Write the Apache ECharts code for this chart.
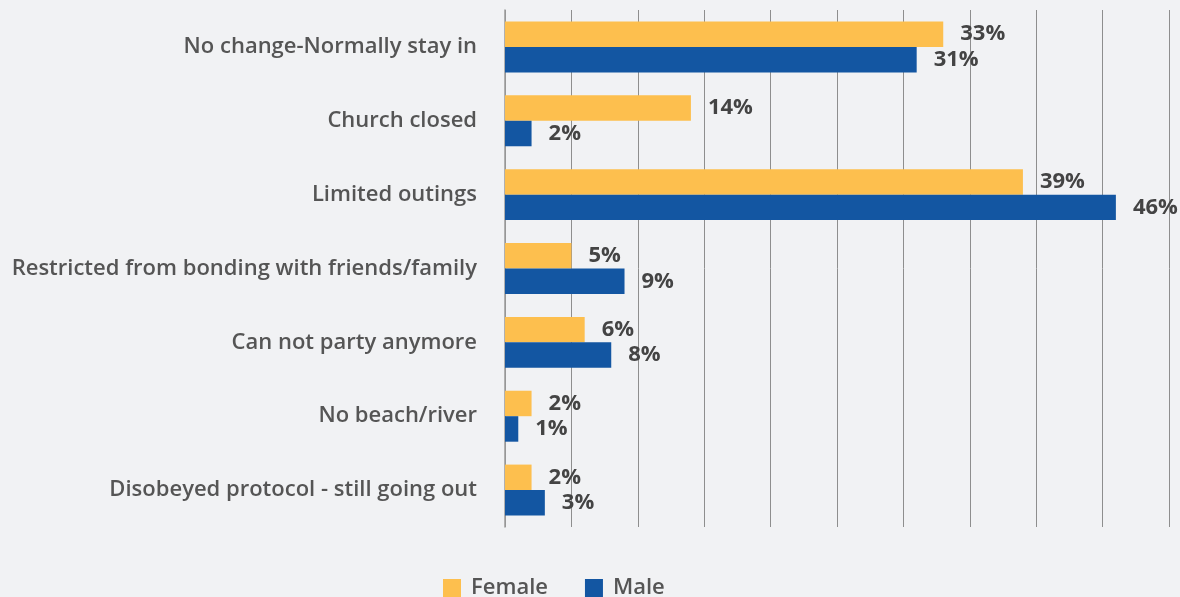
<!DOCTYPE html>
<html>
<head>
<meta charset="utf-8">
<script src="https://cdn.jsdelivr.net/npm/echarts@6/dist/echarts.min.js"></script>
<style>
  html, body { margin: 0; padding: 0; background: #f1f2f4; }
  #chart { width: 1180px; height: 597px; }
</style>
</head>
<body>
<div id="chart"></div>
<script>
// Changes in going-out habits, by gender (percent of respondents)
const categories = [
  'No change-Normally stay in',
  'Church closed',
  'Limited outings',
  'Restricted from bonding with friends/family',
  'Can not party anymore',
  'No beach/river',
  'Disobeyed protocol - still going out'
];
const femaleValues = [33, 14, 39, 5, 6, 2, 2];
const maleValues = [31, 2, 46, 9, 8, 1, 3];
const seriesNames = ['Female', 'Male'];

const FONT = '"Open Sans", "Noto Sans", sans-serif';

const valueLabel = {
  show: true,
  position: 'right',
  distance: 17,
  formatter: p => p.value + '%',
  color: '#444444',
  fontFamily: FONT,
  fontWeight: 'bold',
  fontSize: 22,
  padding: [2, 0, 0, 0]
};

const chart = echarts.init(document.getElementById('chart'));
chart.setOption({
  backgroundColor: '#f1f2f4',
  animation: false,
  grid: { left: 505, right: 11, top: 10, bottom: 70, containLabel: false },
  legend: {
    top: 577,
    left: 443,
    padding: 0,
    itemWidth: 18,
    itemHeight: 18,
    itemGap: 37,
    icon: 'rect',
    textStyle: { color: '#555555', fontFamily: FONT, fontWeight: 600, fontSize: 22, padding: [2, 0, 0, 5] },
    data: seriesNames
  },
  xAxis: {
    type: 'value',
    min: 0,
    max: 50,
    interval: 5,
    axisLabel: { show: false },
    axisLine: { show: false },
    axisTick: { show: false },
    splitLine: { show: true, lineStyle: { color: '#8e8e8e', width: 1 } }
  },
  yAxis: {
    type: 'category',
    inverse: true,
    data: categories,
    axisTick: { show: false },
    axisLine: { show: true, lineStyle: { color: '#9a9a9a', width: 1.5 } },
    axisLabel: {
      margin: 28,
      color: '#555555',
      fontFamily: FONT,
      fontWeight: 600,
      fontSize: 22,
      padding: [4, 0, 0, 0]
    }
  },
  series: [
    {
      name: seriesNames[0],
      type: 'bar',
      data: femaleValues,
      itemStyle: { color: '#fdbf4e' },
      barGap: '0%',
      barCategoryGap: '31%',
      label: valueLabel
    },
    {
      name: seriesNames[1],
      type: 'bar',
      data: maleValues,
      itemStyle: { color: '#1356a2' },
      barGap: '0%',
      barCategoryGap: '31%',
      label: valueLabel
    }
  ]
});
</script>
</body>
</html>
